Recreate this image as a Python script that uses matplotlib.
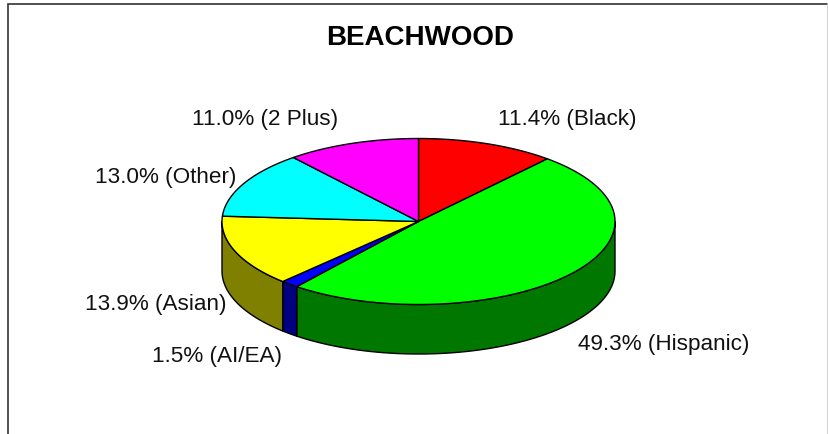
import numpy as np
import matplotlib
matplotlib.use('Agg')
import matplotlib.pyplot as plt
from matplotlib.patches import Polygon

plt.rcParams['font.family'] = ['Liberation Sans', 'DejaVu Sans']

title = 'BEACHWOOD'
groups = ['Black', 'Hispanic', 'AI/EA', 'Asian', 'Other', '2 Plus']
shares = [11.4, 49.3, 1.5, 13.9, 13.0, 11.0]
top_colors = ['#ff0000', '#00ff00', '#0000ff', '#ffff00', '#00ffff', '#ff00ff']
side_colors = ['#800000', '#007800', '#000080', '#808000', '#008080', '#800080']
# left edge of each label, centre height (pixels)
label_pos = [(498, 119), (578, 345), (152, 357), (85, 305), (95, 178), (192, 119)]

W, H = 829, 435
cx, cy = 418.5, 222.5
rx, ry = 196.5, 83
depth = 49.5

fig = plt.figure(figsize=(W / 100, H / 100), dpi=100)
ax = fig.add_axes([0, 0, 1, 1])
ax.set_xlim(0, W)
ax.set_ylim(H, 0)
ax.axis('off')


def rim(a, b):
    # points on the top ellipse, angles clockwise from 12 o'clock
    t = np.radians(np.linspace(a, b, max(int(b - a) * 2, 2)))
    return cx + rx * np.sin(t), cy - ry * np.cos(t)


# frame
ax.plot([8, 8, 828], [H, 5, 5], color='#333333', lw=1.2, solid_joinstyle='miter')
ax.plot([828, 828], [5, H], color='#c8c8c8', lw=1.2)

edges = np.cumsum([0] + shares) / sum(shares) * 360

# side walls first, only the front half shows
for i in range(len(shares)):
    a = max(edges[i], 90)
    b = min(edges[i + 1], 270)
    if b > a:
        x, y = rim(a, b)
        pts = np.r_[np.c_[x, y], np.c_[x[::-1], y[::-1] + depth]]
        ax.add_patch(Polygon(pts, fc=side_colors[i], ec='black', lw=1.0))

for i in range(len(shares)):
    x, y = rim(edges[i], edges[i + 1])
    pts = np.r_[[[cx, cy]], np.c_[x, y]]
    ax.add_patch(Polygon(pts, fc=top_colors[i], ec='black', lw=1.0, joinstyle='round'))

for g, s, (lx, ly) in zip(groups, shares, label_pos):
    ax.text(lx, ly, f'{s:.1f}% ({g})', fontsize=16.2, ha='left', va='center', color='#111111')

ax.text(420, 38, title, fontsize=20, fontweight='bold', ha='center', va='center', color='black')

fig.savefig('out.png', dpi=100)
